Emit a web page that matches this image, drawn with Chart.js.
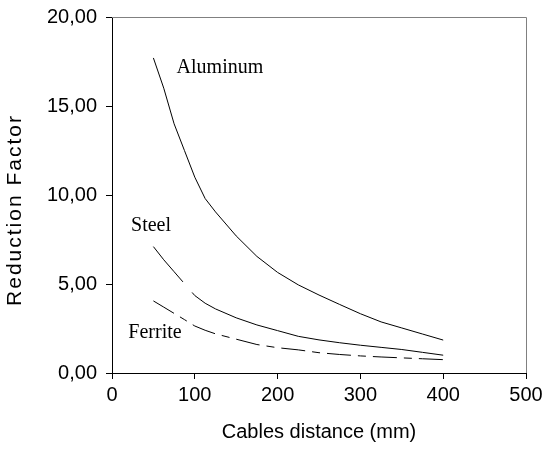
<!DOCTYPE html>
<html>
<head>
<meta charset="utf-8">
<script src="https://cdn.jsdelivr.net/npm/chart.js@4/dist/chart.umd.min.js"></script>
<style>
  html, body { margin: 0; padding: 0; background: #fff; }
  #wrap { width: 543px; height: 457px; }
</style>
</head>
<body>
<div id="wrap"><canvas id="chart"></canvas></div>
<script>
const distances = [50, 62.5, 75, 87.5, 100, 112.5, 125, 150, 175, 200, 225, 250, 275, 300, 325, 350, 375, 400];
const aluminum  = [17.7, 16.0, 14.0, 12.5, 11.0, 9.8, 9.05, 7.7, 6.55, 5.65, 4.95, 4.38, 3.85, 3.33, 2.87, 2.53, 2.19, 1.85];
const steel     = [7.1, 6.36, 5.69, 5.02, 4.35, 3.92, 3.6, 3.1, 2.7, 2.38, 2.06, 1.86, 1.7, 1.56, 1.44, 1.32, 1.16, 1.0];
const ferrite   = [4.05, 3.7, 3.35, 3.0, 2.64, 2.4, 2.2, 1.9, 1.6, 1.42, 1.3, 1.14, 1.04, 0.96, 0.9, 0.85, 0.8, 0.75];

const xTicks = [0, 100, 200, 300, 400, 500];
const yTicks = [0, 5, 10, 15, 20];

const seriesLabels = [
    { text: 'Aluminum', x: 78, y: 16.87 },
    { text: 'Steel',    x: 23, y: 7.96 },
    { text: 'Ferrite',  x: 19.7, y: 1.98 }
];
const yTitle = 'Reduction Factor';

function points(values) {
    return distances.map((d, i) => ({ x: d, y: values[i] }));
}

const frameAndLabels = {
    id: 'frameAndLabels',
    afterDraw(chart) {
        const { ctx, chartArea: a, scales } = chart;
        ctx.save();
        // grey top/right edges of the plot box
        ctx.strokeStyle = '#808080';
        ctx.lineWidth = 1;
        ctx.beginPath();
        ctx.moveTo(a.left, a.top + 0.5);
        ctx.lineTo(a.right + 0.5, a.top + 0.5);
        ctx.lineTo(a.right + 0.5, a.bottom);
        ctx.stroke();

        ctx.fillStyle = '#000';
        ctx.font = '20px "Liberation Serif", "Times New Roman", serif';
        ctx.textAlign = 'left';
        ctx.textBaseline = 'alphabetic';
        seriesLabels.forEach(l => {
            ctx.fillText(l.text, scales.x.getPixelForValue(l.x), scales.y.getPixelForValue(l.y));
        });

        // y axis title, a bit spread out like the original
        ctx.translate(15, 211);
        ctx.rotate(-Math.PI / 2);
        ctx.font = '21px "Liberation Sans", Arial, sans-serif';
        ctx.letterSpacing = '2px';
        ctx.textAlign = 'center';
        ctx.textBaseline = 'middle';
        ctx.fillText(yTitle, 1, 0);
        ctx.restore();
    }
};

const line = (label, values, dash) => ({
    label: label,
    data: points(values),
    borderColor: '#000',
    borderWidth: 1,
    borderDash: dash,
    pointRadius: 0,
    fill: false,
    tension: 0
});

new Chart(document.getElementById('chart'), {
    type: 'line',
    data: {
        datasets: [
            line('Aluminum', aluminum, []),
            line('Steel', steel, [46, 14, 3000]),
            line('Ferrite', ferrite, [24, 7, 8, 7])
        ]
    },
    options: {
        responsive: true,
        maintainAspectRatio: false,
        animation: false,
        layout: { padding: { top: 17, right: 17, bottom: 0, left: 0 } },
        plugins: {
            legend: { display: false },
            tooltip: { enabled: false }
        },
        scales: {
            x: {
                type: 'linear',
                min: 0,
                max: 500,
                afterBuildTicks: s => { s.ticks = xTicks.map(v => ({ value: v })); },
                afterFit: s => { s.height = 84; s.paddingLeft = 0; s.paddingRight = 0; },
                grid: { drawOnChartArea: false, color: '#000', tickLength: 6 },
                border: { color: '#000', width: 1 },
                ticks: {
                    color: '#000',
                    padding: 4,
                    maxRotation: 0,
                    font: { family: '"Liberation Sans", Arial, sans-serif', size: 20 }
                },
                title: {
                    display: true,
                    text: 'Cables distance (mm)',
                    color: '#000',
                    padding: { top: 4, bottom: 13 },
                    font: { family: '"Liberation Sans", Arial, sans-serif', size: 20 }
                }
            },
            y: {
                min: 0,
                max: 20,
                afterBuildTicks: s => { s.ticks = yTicks.map(v => ({ value: v })); },
                afterFit: s => { s.width = 112; s.paddingTop = 0; s.paddingBottom = 0; },
                grid: { drawOnChartArea: false, color: '#000', tickLength: 6 },
                border: { color: '#000', width: 1 },
                ticks: {
                    color: '#000',
                    padding: 9,
                    font: { family: '"Liberation Sans", Arial, sans-serif', size: 20 },
                    callback: v => v.toFixed(2).replace('.', ',')
                }
            }
        }
    },
    plugins: [frameAndLabels]
});
</script>
</body>
</html>
